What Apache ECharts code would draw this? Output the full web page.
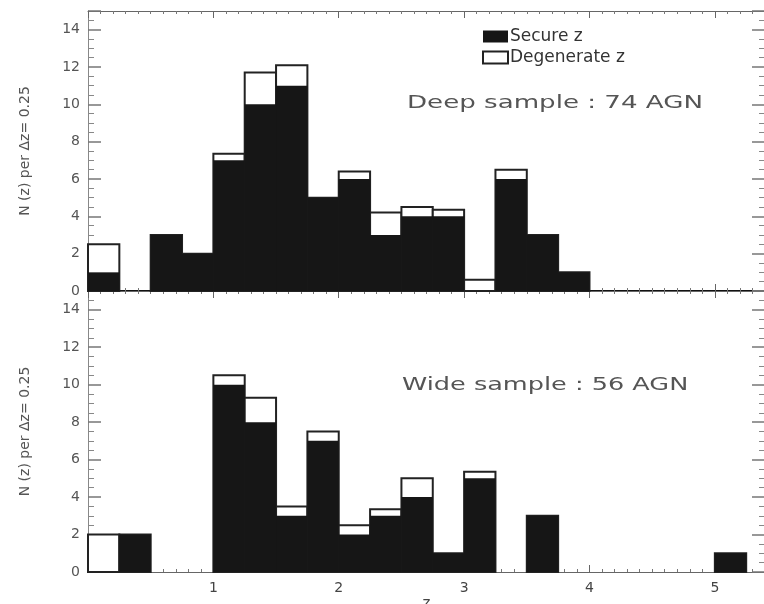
<!DOCTYPE html>
<html>
<head>
<meta charset="utf-8">
<script src="https://cdn.jsdelivr.net/npm/echarts@6/dist/echarts.min.js"></script>
<style>
  html, body { margin: 0; padding: 0; background: #fff; }
  #chart { width: 764px; height: 604px; }
</style>
</head>
<body>
<div id="chart"></div>
<script>
// redshift bins, width 0.25
const binWidth = 0.25
const binStarts = [0, 0.25, 0.5, 0.75, 1, 1.25, 1.5, 1.75, 2, 2.25, 2.5, 2.75, 3, 3.25, 3.5, 3.75, 4, 4.25, 4.5, 4.75, 5]
// deep sample (top panel)
const deepSecure = [1, 0, 3, 2, 7, 10, 11, 5, 6, 3, 4, 4, 0, 6, 3, 1, 0, 0, 0, 0, 0]
const deepTotal = [2.5, 0, 3, 2, 7.35, 11.7, 12.1, 5, 6.4, 4.2, 4.5, 4.35, 0.6, 6.5, 3, 1, 0, 0, 0, 0, 0]
// wide sample (bottom panel)
const wideSecure = [0, 2, 0, 0, 10, 8, 3, 7, 2, 3, 4, 1, 5, 0, 3, 0, 0, 0, 0, 0, 1]
const wideTotal = [2, 2, 0, 0, 10.5, 9.3, 3.5, 7.5, 2.5, 3.35, 5, 1, 5.35, 0, 3, 0, 0, 0, 0, 0, 1]

const yTitle = 'N (z) per Δz= 0.25'
const font = 'DejaVu Sans'

function toBins(values) {
  const out = []
  values.forEach((v, i) => {
    if (v > 0) out.push([binStarts[i], binStarts[i] + binWidth, v])
  })
  return out
}

function renderBin(params, api) {
  const p0 = api.coord([api.value(0), api.value(2)])
  const p1 = api.coord([api.value(1), 0])
  return {
    type: 'rect',
    shape: { x: p0[0], y: p0[1], width: p1[0] - p0[0], height: p1[1] - p0[1] },
    style: api.style()
  }
}

function xAxisFor(grid, pos, labels) {
  const mid = pos == 'bottom' && grid == 0
  return {
    type: 'value', gridIndex: grid, position: pos,
    min: 0, max: 5.4, interval: 1,
    name: labels ? 'z' : '', nameLocation: 'middle', nameGap: 25,
    nameTextStyle: { fontFamily: font, fontSize: 15, color: '#444' },
    axisLine: { show: true, onZero: false, lineStyle: { color: mid ? '#111' : '#666', width: mid ? 2 : 1 } },
    axisTick: { show: true, inside: true, length: 7, lineStyle: { color: '#666' } },
    minorTick: { show: true, splitNumber: 10, length: 3, lineStyle: { color: '#777' } },
    axisLabel: {
      show: labels, margin: 9, showMinLabel: false, showMaxLabel: false,
      fontFamily: font, fontSize: 14, color: '#444'
    },
    splitLine: { show: false }
  }
}

function yAxisFor(grid, pos, labels) {
  return {
    type: 'value', gridIndex: grid, position: pos,
    min: 0, max: 15, interval: 2,
    name: labels ? yTitle : '', nameLocation: 'middle', nameGap: 56,
    nameTextStyle: { fontFamily: font, fontSize: 14, color: '#555' },
    axisLine: { show: true, onZero: false, lineStyle: { color: '#888' } },
    axisTick: { show: true, inside: true, length: 13, lineStyle: { color: '#777', width: 1.5 } },
    minorTick: { show: true, splitNumber: 4, length: 6, lineStyle: { color: '#888' } },
    axisLabel: {
      show: labels, margin: 8, showMaxLabel: false,
      fontFamily: font, fontSize: 14, color: '#555'
    },
    splitLine: { show: false }
  }
}

const totalStyle = { color: '#fff', borderColor: '#222', borderWidth: 2 }
const secureStyle = { color: '#161616' }

const option = {
  animation: false,
  backgroundColor: '#fff',
  grid: [
    { left: 88, right: -1, top: 11, height: 280, outerBoundsMode: 'none' },
    { left: 88, right: -1, top: 291, height: 281, outerBoundsMode: 'none' }
  ],
  xAxis: [
    xAxisFor(0, 'bottom', false),
    xAxisFor(0, 'top', false),
    xAxisFor(1, 'bottom', true),
    xAxisFor(1, 'top', false)
  ],
  yAxis: [
    yAxisFor(0, 'left', true),
    yAxisFor(0, 'right', false),
    yAxisFor(1, 'left', true),
    yAxisFor(1, 'right', false)
  ],
  legend: {
    left: 482, top: 28, orient: 'vertical',
    itemWidth: 25, itemHeight: 12, itemGap: 4, padding: 0,
    icon: 'rect',
    data: ['Secure z', 'Degenerate z'],
    textStyle: { fontFamily: font, fontSize: 17, color: '#333', padding: [0, 0, 0, -3] }
  },
  graphic: [
    { type: 'text', x: 407, y: 103, scaleX: 1.45,
      style: { text: 'Deep sample : 74 AGN', font: '18px "DejaVu Sans"', fill: '#555', verticalAlign: 'middle' } },
    { type: 'text', x: 402, y: 385, scaleX: 1.42,
      style: { text: 'Wide sample : 56 AGN', font: '18px "DejaVu Sans"', fill: '#555', verticalAlign: 'middle' } }
  ],
  series: [
    { name: 'Degenerate z', type: 'custom', xAxisIndex: 0, yAxisIndex: 0, renderItem: renderBin,
      itemStyle: totalStyle, data: toBins(deepTotal) },
    { name: 'Secure z', type: 'custom', xAxisIndex: 0, yAxisIndex: 0, renderItem: renderBin,
      itemStyle: secureStyle, data: toBins(deepSecure) },
    { name: 'Degenerate z', type: 'custom', xAxisIndex: 2, yAxisIndex: 2, renderItem: renderBin,
      itemStyle: totalStyle, data: toBins(wideTotal) },
    { name: 'Secure z', type: 'custom', xAxisIndex: 2, yAxisIndex: 2, renderItem: renderBin,
      itemStyle: secureStyle, data: toBins(wideSecure) }
  ]
}

const chart = echarts.init(document.getElementById('chart'))
chart.setOption(option)
</script>
</body>
</html>
